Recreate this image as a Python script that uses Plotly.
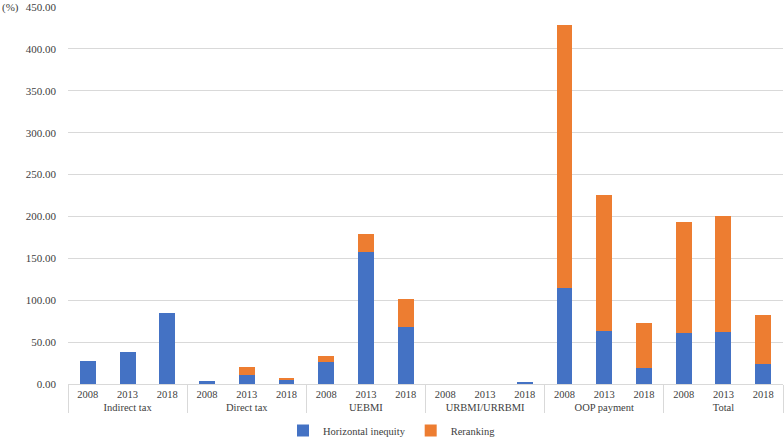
import plotly.graph_objects as go

groups = ["Indirect tax", "Direct tax", "UEBMI", "URBMI/URRBMI", "OOP payment", "Total"]
years = ["2008", "2013", "2018"]
horizontal_inequity = [28.0, 38.0, 85.0,
                       3.0, 10.5, 5.6,
                       26.5, 158.0, 67.6,
                       0.0, 0.0, 2.0,
                       114.3, 62.9, 19.6,
                       61.0, 62.3, 23.8]
reranking = [0.0, 0.0, 0.0,
             0.0, 9.5, 0.4,
             7.5, 21.2, 34.4,
             0.0, 0.0, 0.0,
             314.0, 162.5, 53.6,
             132.4, 137.9, 58.1]
y_ticks = [0, 50, 100, 150, 200, 250, 300, 350, 400, 450]

x_group = [g for g in groups for _ in years]
x_year = [y for _ in groups for y in years]

font_family = "Liberation Serif"
text_color = "#404040"

fig = go.Figure()
fig.add_trace(go.Bar(x=[x_group, x_year], y=horizontal_inequity, name="Horizontal inequity",
                     marker=dict(color="#4472C4", line=dict(width=0))))
fig.add_trace(go.Bar(x=[x_group, x_year], y=reranking, name="Reranking",
                     marker=dict(color="#ED7D31", line=dict(width=0))))

fig.update_layout(
    barmode="stack",
    bargap=0.6,
    width=784, height=438,
    margin=dict(l=68, r=1, t=7, b=54),
    paper_bgcolor="white", plot_bgcolor="white",
    font=dict(family=font_family, size=11, color=text_color),
    showlegend=True,
    legend=dict(orientation="h", x=0.5, xanchor="center", xref="container",
                y=0.0, yanchor="bottom", yref="container",
                font=dict(family=font_family, size=10.5), traceorder="normal",
                itemwidth=30),
    annotations=[dict(text="(%)", x=0, y=450, xref="paper", yref="y",
                      xanchor="left", yanchor="middle", showarrow=False,
                      xshift=-68, font=dict(family=font_family, size=11, color=text_color))],
)
fig.update_yaxes(range=[0, 450], tickvals=y_ticks, tickformat=".2f",
                 showgrid=True, gridcolor="#d9d9d9", gridwidth=1,
                 zeroline=False, showline=False, ticks="", ticklen=0,
                 ticklabelstandoff=11, ticklabeloverflow="allow", automargin=False,
                 tickfont=dict(family=font_family, size=11, color=text_color))
fig.update_xaxes(type="multicategory", showline=True, linecolor="#d9d9d9",
                 linewidth=1, showdividers=True, dividercolor="#d9d9d9",
                 dividerwidth=1, automargin=False, tickangle=0,
                 tickfont=dict(family=font_family, size=10.5, color=text_color),
                 ticks="", showgrid=False)

post_js = """
document.body.style.margin='0';
try {
  var lg = document.querySelector('g.legend');
  if (lg) {
    var t = lg.getAttribute('transform') || '';
    var m = t.match(/translate\\(([-\\d.eE]+)[ ,]+([-\\d.eE]+)\\)/);
    if (m) {
      lg.setAttribute('transform', 'translate(' + m[1] + ',' + (parseFloat(m[2]) + 7) + ')');
    }
  }
} catch (e) {}
"""

fig.write_html("out.html", config={"displayModeBar": False}, post_script=post_js)
